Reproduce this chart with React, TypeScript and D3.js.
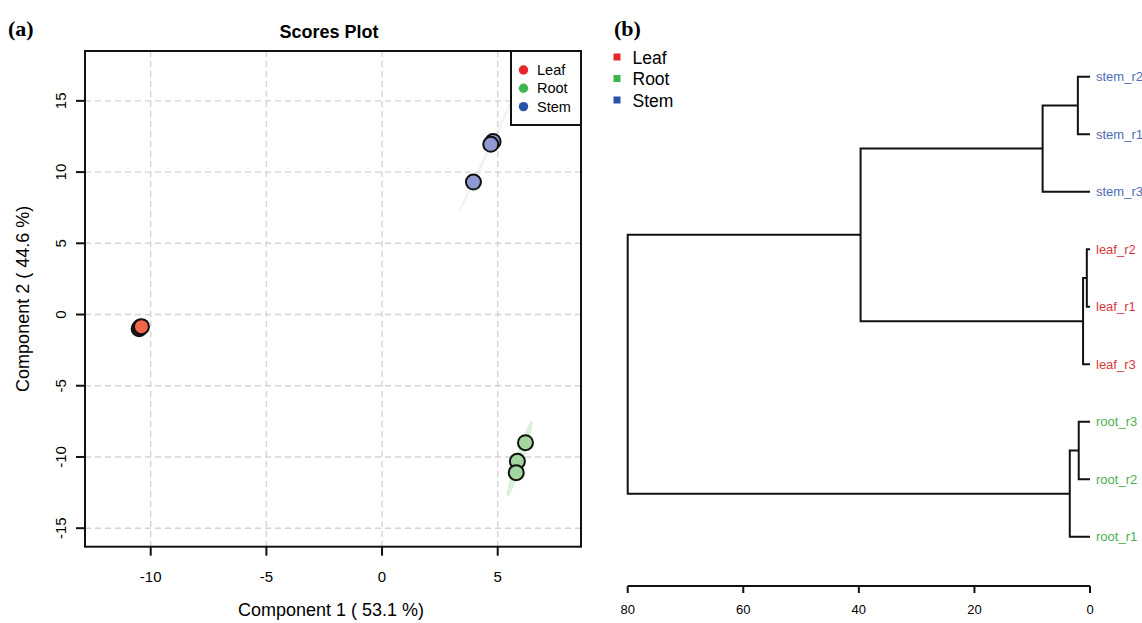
import React from "react";
import * as d3 from "d3";

// ---- panel (a) data: PCA scores ----
const groups = ["Leaf", "Root", "Stem"];
const legendColors = ["#e8262a", "#3db54a", "#2b52a8"];
const pointFills = ["#f4664a", "#a3d69e", "#8f99d2"];

const leafScores = [[-10.5, -1.0], [-10.45, -0.9], [-10.4, -0.85]];
const rootScores = [[6.2, -9.0], [5.85, -10.3], [5.8, -11.1]];
const stemScores = [[4.8, 12.15], [4.7, 11.95], [3.95, 9.3]];
const groupScores = [leafScores, rootScores, stemScores];

const xTicks = [-10, -5, 0, 5];
const yTicks = [-15, -10, -5, 0, 5, 10, 15];
const xDomain = [-12.84, 8.6];
const yDomain = [-16.3, 18.5];

// ---- panel (b) data: hierarchical clustering ----
const dendroLeaves = ["stem_r2", "stem_r1", "stem_r3", "leaf_r2", "leaf_r1", "leaf_r3", "root_r3", "root_r2", "root_r1"];
const leafGroup = [2, 2, 2, 0, 0, 0, 1, 1, 1];
const labelColors = ["#d8393b", "#4cb050", "#4e6db5"];
// hclust style merges: negative = leaf index (1-based), positive = earlier merge
const dendroMerges = [
  [-1, -2, 2.1],
  [1, -3, 8.2],
  [-4, -5, 0.55],
  [3, -6, 1.2],
  [2, 4, 39.7],
  [-7, -8, 1.95],
  [6, -9, 3.5],
  [5, 7, 80],
];
const heightTicks = [80, 60, 40, 20, 0];

const sans = "'Liberation Sans', Arial, Helvetica, sans-serif";
const serif = "'Liberation Serif', 'Times New Roman', serif";

// 95% confidence ellipse from sample covariance
function ellipsePoints(pts) {
  const n = pts.length;
  const mx = d3.mean(pts, (p) => p[0]);
  const my = d3.mean(pts, (p) => p[1]);
  let sxx = 0, syy = 0, sxy = 0;
  pts.forEach((p) => {
    sxx += (p[0] - mx) ** 2;
    syy += (p[1] - my) ** 2;
    sxy += (p[0] - mx) * (p[1] - my);
  });
  sxx /= n - 1; syy /= n - 1; sxy /= n - 1;
  const tr = sxx + syy, det = sxx * syy - sxy * sxy;
  const disc = Math.sqrt(Math.max(tr * tr / 4 - det, 0));
  const l1 = tr / 2 + disc, l2 = Math.max(tr / 2 - disc, 0);
  const ang = Math.atan2(l1 - sxx, sxy || 1e-9);
  const c = Math.sqrt(5.991);
  const a = c * Math.sqrt(l1), b = c * Math.sqrt(l2);
  return d3.range(0, 72).map((i) => {
    const t = (i / 72) * 2 * Math.PI;
    const u = a * Math.cos(t), v = b * Math.sin(t);
    return [mx + u * Math.cos(ang) - v * Math.sin(ang), my + u * Math.sin(ang) + v * Math.cos(ang)];
  });
}

function ScoresPlot() {
  const left = 85, right = 581, top = 51, bottom = 546.7;
  const x = d3.scaleLinear().domain(xDomain).range([left, right]);
  const y = d3.scaleLinear().domain(yDomain).range([bottom, top]);
  const line = d3.line().x((d) => x(d[0])).y((d) => y(d[1])).curve(d3.curveLinearClosed);

  return (
    <g>
      <text x={8} y={36} fontFamily={serif} fontWeight="bold" fontSize={22}>(a)</text>
      <text x={(left + right) / 2 - 4} y={38} textAnchor="middle" fontFamily={sans} fontWeight="bold" fontSize={18}>Scores Plot</text>

      {/* grid */}
      {xTicks.map((t) => (
        <line key={"gx" + t} x1={x(t)} x2={x(t)} y1={top} y2={bottom} stroke="#d4d4d4" strokeWidth={1.4} strokeDasharray="6,4" />
      ))}
      {yTicks.map((t) => (
        <line key={"gy" + t} x1={left} x2={right} y1={y(t)} y2={y(t)} stroke="#d4d4d4" strokeWidth={1.4} strokeDasharray="6,4" />
      ))}

      {/* ellipses */}
      {groupScores.map((pts, i) => (
        <path key={"el" + i} d={line(ellipsePoints(pts))} fill={i === 1 ? legendColors[i] : "#c8cbd8"} fillOpacity={i === 1 ? 0.18 : 0.2} stroke={i === 1 ? pointFills[i] : "#dadce4"} strokeOpacity={0.4} strokeWidth={0.8} />
      ))}

      {/* points */}
      {groupScores.map((pts, i) =>
        pts.map((p, j) => (
          <circle key={"p" + i + j} cx={x(p[0])} cy={y(p[1])} r={7.5} fill={pointFills[i]} stroke="#111" strokeWidth={2} />
        ))
      )}

      {/* box */}
      <rect x={left} y={top} width={right - left} height={bottom - top} fill="none" stroke="#111" strokeWidth={2} />

      {/* x axis */}
      {xTicks.map((t) => (
        <g key={"xt" + t}>
          <line x1={x(t)} x2={x(t)} y1={bottom} y2={bottom + 9} stroke="#111" strokeWidth={2} />
          <text x={x(t)} y={582} textAnchor="middle" fontFamily={sans} fontSize={15}>{t}</text>
        </g>
      ))}
      <text x={(left + right) / 2 - 2} y={616} textAnchor="middle" fontFamily={sans} fontSize={18}>Component 1 ( 53.1 %)</text>

      {/* y axis */}
      {yTicks.map((t) => (
        <g key={"yt" + t}>
          <line x1={left - 9} x2={left} y1={y(t)} y2={y(t)} stroke="#111" strokeWidth={2} />
          <text transform={`translate(66,${y(t)}) rotate(-90)`} textAnchor="middle" fontFamily={sans} fontSize={15}>{t}</text>
        </g>
      ))}
      <text transform={`translate(29,${(top + bottom) / 2}) rotate(-90)`} textAnchor="middle" fontFamily={sans} fontSize={18}>Component 2 ( 44.6 %)</text>

      {/* legend */}
      <rect x={511} y={top} width={right - 511} height={74} fill="#fff" stroke="#111" strokeWidth={2} />
      {groups.map((g, i) => (
        <g key={"lg" + g}>
          <circle cx={523.5} cy={70 + i * 18.3} r={4.7} fill={legendColors[i]} />
          <text x={537} y={75 + i * 18.3} fontFamily={sans} fontSize={14.5}>{g}</text>
        </g>
      ))}
    </g>
  );
}

function Dendrogram() {
  const x = d3.scaleLinear().domain([80, 0]).range([627.7, 1090]);
  const yLeaf = d3.scalePoint().domain(dendroLeaves).range([76.7, 536.8]);
  const axisY = 586;

  // build nodes from merges
  const nodes = [];
  const nodeOf = (ref) =>
    ref < 0 ? { h: 0, y: yLeaf(dendroLeaves[-ref - 1]) } : nodes[ref - 1];
  const segments = [];
  dendroMerges.forEach(([a, b, h]) => {
    const na = nodeOf(a), nb = nodeOf(b);
    const node = { h, y: (na.y + nb.y) / 2 };
    nodes.push(node);
    segments.push(`M${x(na.h)},${na.y}H${x(h)}V${nb.y}H${x(nb.h)}`);
  });

  return (
    <g>
      <text x={614} y={36} fontFamily={serif} fontWeight="bold" fontSize={22}>(b)</text>
      {groups.map((g, i) => (
        <g key={"dl" + g}>
          <rect x={613.5} y={53.5 + i * 21.5} width={7} height={7} fill={legendColors[i]} />
          <text x={632.5} y={63.5 + i * 21.5} fontFamily={sans} fontSize={17.5}>{g}</text>
        </g>
      ))}

      {segments.map((d, i) => (
        <path key={"s" + i} d={d} fill="none" stroke="#111" strokeWidth={2} />
      ))}

      {dendroLeaves.map((lab, i) => (
        <text key={lab} x={1096} y={yLeaf(lab) + 4.5} fontFamily={sans} fontSize={13} fill={labelColors[leafGroup[i]]}>{lab}</text>
      ))}

      <line x1={x(80)} x2={x(0)} y1={axisY} y2={axisY} stroke="#111" strokeWidth={2} />
      {heightTicks.map((t) => (
        <g key={"ht" + t}>
          <line x1={x(t)} x2={x(t)} y1={axisY} y2={axisY + 7} stroke="#111" strokeWidth={2} />
          <text x={x(t)} y={614} textAnchor="middle" fontFamily={sans} fontSize={13}>{t}</text>
        </g>
      ))}
    </g>
  );
}

export default function App() {
  return (
    <svg width={1142} height={623} style={{ position: "absolute", left: 0, top: 0, background: "#fff" }}>
      <rect width={1142} height={623} fill="#fff" />
      <ScoresPlot />
      <Dendrogram />
    </svg>
  );
}
